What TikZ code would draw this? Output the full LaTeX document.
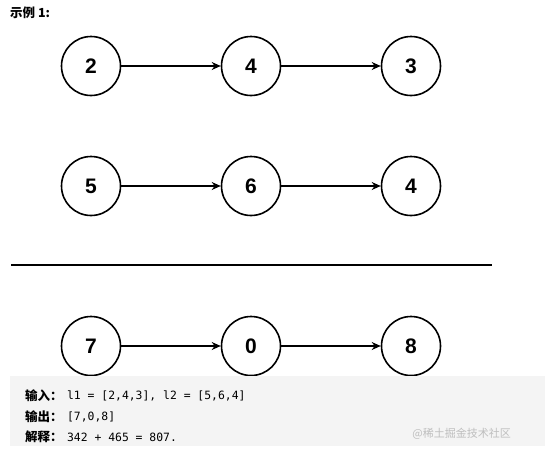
\documentclass[tikz,border=0pt]{standalone}
\usepackage{fontspec}
\setmainfont{Liberation Sans}
\newfontfamily\cjk{Noto Sans CJK SC}
\newfontfamily\cjkb{Noto Sans CJK SC Bold}
\setmonofont{DejaVu Sans Mono}
\usetikzlibrary{arrows.meta}
\begin{document}
\begin{tikzpicture}[x=1pt,y=-1pt,
  nd/.style={circle,draw=black,line width=1.6pt,minimum size=59pt,inner sep=0pt,font=\fontsize{21}{21}\selectfont\bfseries},
  conn/.style={line width=1.3pt,-{Stealth[length=9pt,width=8pt]}},
  lbl/.style={anchor=west,inner sep=0pt,font=\cjk\bfseries\fontsize{12.5}{13}\selectfont},
  code/.style={anchor=west,inner sep=0pt,font=\ttfamily\fontsize{11.4}{13}\selectfont}]
\useasboundingbox (0,0) rectangle (545,453);
\fill[white] (0,0) rectangle (545,453);
\node[anchor=west,inner sep=0pt,font=\cjk\bfseries\fontsize{12.5}{13}\selectfont] (title) at (10,13) {\cjkb 示例 1:};
\node[nd] (a1) at (91,66) {2};
\node[nd] (a2) at (251,66) {4};
\node[nd] (a3) at (411,66) {3};
\node[nd] (b1) at (91,186) {5};
\node[nd] (b2) at (251,186) {6};
\node[nd] (b3) at (411,186) {4};
\node[nd] (c1) at (91,346) {7};
\node[nd] (c2) at (251,346) {0};
\node[nd] (c3) at (411,346) {8};
\draw[conn] (a1) -- (a2);
\draw[conn] (a2) -- (a3);
\draw[conn] (b1) -- (b2);
\draw[conn] (b2) -- (b3);
\draw[conn] (c1) -- (c2);
\draw[conn] (c2) -- (c3);
\coordinate (hl) at (11,265);
\coordinate (hr) at (492,265);
\draw[line width=2pt] (hl) -- (hr);
\fill[fill={rgb,255:red,244;green,244;blue,244}] (10,376) rectangle (545,446);
\node[lbl] (l1) at (25,396) {\cjkb 输入：};
\node[code] (t1) at ([xshift=4pt]l1.east) {l1 = [2,4,3], l2 = [5,6,4]};
\node[lbl] (l2) at (25,417) {\cjkb 输出：};
\node[code] (t2) at ([xshift=4pt]l2.east) {[7,0,8]};
\node[lbl] (l3) at (25,437) {\cjkb 解释：};
\node[code] (t3) at ([xshift=4pt]l3.east) {342 + 465 = 807.};
\node[anchor=east,inner sep=0pt,text={rgb,255:red,190;green,190;blue,190},font=\cjk\fontsize{11}{12}\selectfont] (wm) at (511,434) {@稀土掘金技术社区};
\end{tikzpicture}
\end{document}
